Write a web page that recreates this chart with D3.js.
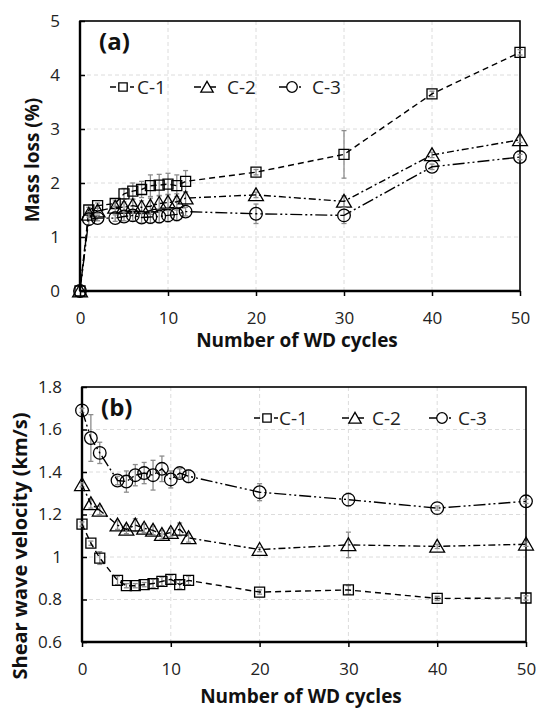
<!DOCTYPE html>
<html>
<head>
<meta charset="utf-8">
<script src="https://cdn.jsdelivr.net/npm/d3@7"></script>
<style>
body { margin: 0; background: #fff; }
svg { display: block; font-family: "Open Sans", "Noto Sans", sans-serif; }
</style>
</head>
<body>
<div id="chart"></div>
<script>
// cycles
var cycles = [0, 1, 2, 4, 5, 6, 7, 8, 9, 10, 11, 12, 20, 30, 40, 50];
var seriesNames = ["C-1", "C-2", "C-3"];

// (a) mass loss %
var massC1 = [0, 1.5, 1.58, 1.62, 1.8, 1.85, 1.88, 1.95, 1.96, 1.98, 1.95, 2.03, 2.2, 2.53, 3.65, 4.42];
var massC2 = [0, 1.42, 1.48, 1.55, 1.55, 1.58, 1.55, 1.57, 1.62, 1.64, 1.65, 1.72, 1.78, 1.66, 2.52, 2.8];
var massC3 = [0, 1.33, 1.35, 1.35, 1.38, 1.4, 1.36, 1.37, 1.38, 1.4, 1.42, 1.47, 1.43, 1.4, 2.3, 2.48];
var massErrC1 = [0, 0.05, 0.05, 0.05, 0.1, 0.15, 0.15, 0.2, 0.2, 0.2, 0.2, 0.2, 0.05, 0.44, 0.05, 0.05];
var massErrC2 = [0, 0.05, 0.05, 0.08, 0.1, 0.12, 0.12, 0.15, 0.15, 0.15, 0.15, 0.12, 0.05, 0.1, 0.05, 0.05];
var massErrC3 = [0, 0.1, 0.05, 0.06, 0.08, 0.1, 0.1, 0.12, 0.12, 0.12, 0.12, 0.08, 0.18, 0.15, 0.05, 0.05];

// (b) shear wave velocity km/s
var vsC1 = [1.155, 1.065, 0.995, 0.89, 0.865, 0.865, 0.87, 0.875, 0.885, 0.895, 0.87, 0.89, 0.835, 0.845, 0.805, 0.807];
var vsC2 = [1.34, 1.25, 1.22, 1.15, 1.13, 1.15, 1.135, 1.125, 1.105, 1.115, 1.13, 1.09, 1.035, 1.057, 1.05, 1.06];
var vsC3 = [1.69, 1.56, 1.49, 1.36, 1.355, 1.385, 1.395, 1.385, 1.415, 1.365, 1.395, 1.38, 1.305, 1.27, 1.23, 1.262];
var vsErrC1 = [0.01, 0.01, 0.03, 0.02, 0.01, 0.01, 0.01, 0.02, 0.02, 0.02, 0.02, 0.02, 0.01, 0.02, 0.01, 0.01];
var vsErrC2 = [0.01, 0.02, 0.02, 0.02, 0.02, 0.03, 0.02, 0.02, 0.02, 0.02, 0.03, 0.02, 0.01, 0.06, 0.01, 0.01];
var vsErrC3 = [0.01, 0.11, 0.05, 0.02, 0.05, 0.05, 0.05, 0.07, 0.06, 0.04, 0.02, 0.03, 0.04, 0.03, 0.01, 0.01];

var xTicks = [0, 10, 20, 30, 40, 50];
var massTicks = [0, 1, 2, 3, 4, 5];
var vsTicks = [0.6, 0.8, 1, 1.2, 1.4, 1.6, 1.8];

var dashes = ["6,4", "7,3,2,3", "12,3,2,3,2,3"];
var symbols = [d3.symbolSquare, d3.symbolTriangle, d3.symbolCircle];
var symSize = [100, 95, 125];

var svg = d3.select("#chart").append("svg").attr("width", 536).attr("height", 708);

function panel(opt) {
  var x = d3.scaleLinear().domain([0, 50]).range([opt.left, opt.right]);
  var y = d3.scaleLinear().domain(opt.ydom).range([opt.bottom, opt.top]);
  var g = svg.append("g");

  // grid
  g.selectAll(".gx").data(xTicks.slice(1, -1)).enter().append("line")
    .attr("x1", d => x(d)).attr("x2", d => x(d))
    .attr("y1", opt.top).attr("y2", opt.bottom)
    .attr("stroke", "#dcdcdc").attr("stroke-dasharray", "4,3");
  g.selectAll(".gy").data(opt.yticks.slice(1, -1)).enter().append("line")
    .attr("x1", opt.left).attr("x2", opt.right)
    .attr("y1", d => y(d)).attr("y2", d => y(d))
    .attr("stroke", "#dcdcdc").attr("stroke-dasharray", "4,3");

  // axes
  var ax = g.append("g").attr("transform", "translate(0," + opt.bottom + ")")
    .call(d3.axisBottom(x).tickValues(xTicks).tickSize(5).tickPadding(16).tickFormat(d3.format("d")));
  var ay = g.append("g").attr("transform", "translate(" + opt.left + ",0)")
    .call(d3.axisLeft(y).tickValues(opt.yticks).tickSize(-5).tickPadding(20).tickFormat(opt.fmt));
  [ax, ay].forEach(function (a) {
    a.select(".domain").remove();
    a.selectAll("line").attr("stroke", "#000").attr("stroke-width", 1.5);
    a.selectAll("text").attr("font-size", 17).attr("fill", "#222")
      .attr("font-family", "'Open Sans', sans-serif");
  });

  // frame
  g.append("rect").attr("x", opt.left).attr("y", opt.top)
    .attr("width", opt.right - opt.left).attr("height", opt.bottom - opt.top)
    .attr("fill", "none").attr("stroke", "#000").attr("stroke-width", 1.6);
  g.append("line").attr("x1", opt.left).attr("x2", opt.left).attr("y1", opt.top).attr("y2", opt.bottom)
    .attr("stroke", "#000").attr("stroke-width", 2.4);
  g.append("line").attr("x1", opt.left).attr("x2", opt.right).attr("y1", opt.bottom).attr("y2", opt.bottom)
    .attr("stroke", "#000").attr("stroke-width", 2.4);

  var line = d3.line().x(d => x(d[0])).y(d => y(d[1]));

  opt.series.forEach(function (vals, k) {
    var pts = cycles.map((c, i) => [c, vals[i], opt.errs[k][i]]);
    // error bars
    var eb = g.append("g").attr("stroke", "#8c8c8c").attr("stroke-width", 1.3);
    pts.forEach(function (p) {
      if (p[2] <= 0) return;
      eb.append("line").attr("x1", x(p[0])).attr("x2", x(p[0]))
        .attr("y1", y(p[1] - p[2])).attr("y2", y(p[1] + p[2]));
      [p[1] - p[2], p[1] + p[2]].forEach(function (v) {
        eb.append("line").attr("x1", x(p[0]) - 2.5).attr("x2", x(p[0]) + 2.5)
          .attr("y1", y(v)).attr("y2", y(v));
      });
    });
    g.append("path").datum(pts).attr("d", line)
      .attr("fill", "none").attr("stroke", "#000").attr("stroke-width", 1.4)
      .attr("stroke-dasharray", dashes[k]);
    g.selectAll(".m" + k).data(pts).enter().append("path")
      .attr("transform", d => "translate(" + x(d[0]) + "," + (y(d[1]) + (k === 1 ? 1.5 : 0)) + ")")
      .attr("d", d3.symbol().type(symbols[k]).size(symSize[k]))
      .attr("fill", "none").attr("stroke", "#000").attr("stroke-width", 1.3);
  });

  // legend
  opt.legend.forEach(function (lx, k) {
    var lg = g.append("g").attr("transform", "translate(" + lx + "," + opt.legY + ")");
    lg.append("line").attr("x1", -13).attr("x2", 11)
      .attr("stroke", "#000").attr("stroke-width", 1.4).attr("stroke-dasharray", dashes[k]);
    lg.append("path").attr("d", d3.symbol().type(symbols[k]).size(symSize[k] * 0.7))
      .attr("transform", "translate(0," + (k === 1 ? 1.5 : 0) + ")")
      .attr("fill", "#fff").attr("stroke", "#000").attr("stroke-width", 1.3);
    lg.append("text").attr("x", opt.legText[k] - lx).attr("y", 7).attr("font-size", 19).attr("fill", "#222")
      .text(seriesNames[k]);
  });

  // panel label
  g.append("text").attr("x", opt.left + 19).attr("y", opt.top + 29)
    .attr("font-size", 24).attr("font-weight", "bold").attr("fill", "#111").text(opt.label);

  // axis titles
  g.append("text").attr("x", (opt.left + opt.right) / 2 - 3).attr("y", opt.xTitleY)
    .attr("text-anchor", "middle").attr("font-size", 19).attr("font-weight", "bold").attr("fill", "#111")
    .text("Number of WD cycles");
  g.append("text").attr("transform", "translate(" + opt.yTitleX + "," + opt.yTitleY + ") rotate(-90)")
    .attr("text-anchor", "middle").attr("font-size", opt.yTitleSize).attr("font-weight", "bold").attr("fill", "#111")
    .text(opt.ytitle);
}

panel({
  left: 80, right: 520, top: 21, bottom: 291,
  ydom: [0, 5], yticks: massTicks, fmt: d3.format("d"),
  series: [massC1, massC2, massC3], errs: [massErrC1, massErrC2, massErrC3],
  legend: [123, 207, 292], legText: [137, 227, 312], legY: 87, label: "(a)",
  xTitleY: 347, yTitleX: 39, yTitleY: 160, yTitleSize: 19, ytitle: "Mass loss (%)"
});

panel({
  left: 82, right: 526, top: 387, bottom: 642,
  ydom: [0.6, 1.8], yticks: vsTicks, fmt: d => (d === 1 ? "1" : d3.format(".1f")(d)),
  series: [vsC1, vsC2, vsC3], errs: [vsErrC1, vsErrC2, vsErrC3],
  legend: [267, 355, 442], legText: [279, 372, 458], legY: 418, label: "(b)",
  xTitleY: 703, yTitleX: 27, yTitleY: 546, yTitleSize: 20, ytitle: "Shear wave velocity (km/s)"
});
</script>
</body>
</html>
